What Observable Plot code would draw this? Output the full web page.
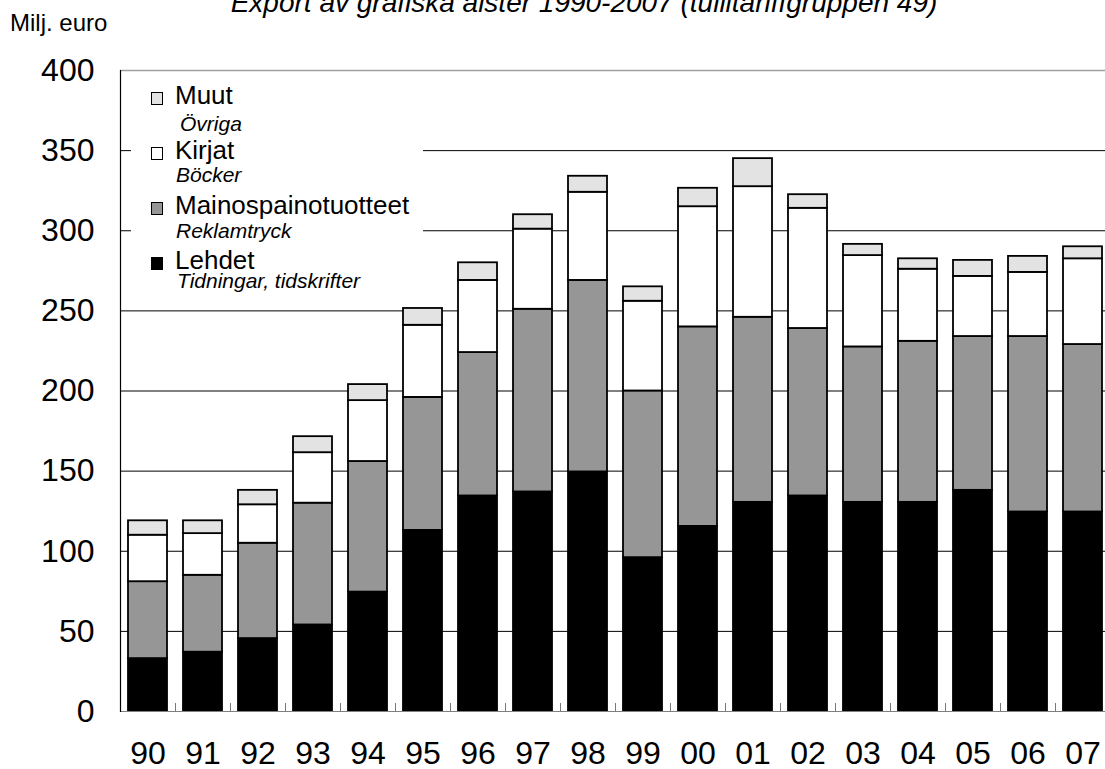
<!DOCTYPE html>
<html>
<head>
<meta charset="utf-8">
<script src="https://cdn.jsdelivr.net/npm/d3@7"></script>
<script src="https://cdn.jsdelivr.net/npm/@observablehq/plot@0.6"></script>
<style>
  html, body { margin: 0; padding: 0; background: #fff; overflow: hidden; }
  #wrap { position: relative; width: 1105px; height: 769px; font-family: "Liberation Sans", Arial, sans-serif; color: #000; }
  #wrap svg { position: absolute; left: 0; top: 0; }
  .abs { position: absolute; white-space: nowrap; }
  #title { top: -11px; left: 584px; transform: translateX(-50%); font-size: 28px; line-height: 28px; font-style: italic; }
  #unit { top: 11px; left: 10px; font-size: 24px; line-height: 24px; }
  #legend { position: absolute; left: 131px; top: 72px; width: 292px; height: 234px; background: #fff; }
  .lg-main { font-size: 26px; line-height: 19px; }
  .lg-sub { font-size: 21px; line-height: 15px; font-style: italic; }
  .sw { position: absolute; width: 12px; height: 13px; box-sizing: border-box; border: 1.5px solid #000; }
</style>
</head>
<body>
<div id="wrap">
  <div id="title" class="abs"></div>
  <div id="unit" class="abs"></div>
</div>
<script>
// ---- Data ----
const years = ["90","91","92","93","94","95","96","97","98","99","00","01","02","03","04","05","06","07"];
const seriesNames = ["Lehdet", "Mainospainotuotteet", "Kirjat", "Muut"];
const seriesSwedish = ["Tidningar, tidskrifter", "Reklamtryck", "Böcker", "Övriga"];
const seriesColors = ["#000000", "#969696", "#ffffff", "#e3e3e3"];
const lehdet = [33, 37, 45.5, 54, 74.5, 113, 134.5, 137, 149.5, 96, 115.5, 130.5, 134.5, 130.5, 130.5, 138, 124.5, 124.5];
const mainos = [48, 48, 59.5, 76, 81.5, 83, 89.5, 114, 119.5, 104, 124.5, 115.5, 104.5, 97, 100.5, 96, 109.5, 104.5];
const kirjat = [29, 26, 24, 31.5, 38, 45, 45, 50, 55, 56, 75, 81.5, 75, 57, 45, 37.5, 40, 53.5];
const muut = [9, 8, 9, 10, 10, 10.5, 11, 9, 10, 9, 11.5, 17.5, 8.5, 7, 6.5, 10, 10, 7.5];
const yTicks = [0, 50, 100, 150, 200, 250, 300, 350, 400];
const titleText = "Export av grafiska alster 1990-2007 (tullitariffgruppen 49)";
const unitText = "Milj. euro";

// ---- Table ----
const seriesValues = [lehdet, mainos, kirjat, muut];
const table = [];
seriesNames.forEach((s, si) => {
  years.forEach((yr, i) => table.push({year: yr, series: s, value: seriesValues[si][i]}));
});

// ---- Layout ----
const W = 1105, H = 769;
const mT = 70, mB = 58, mL = 120, mR = -5;
const step = (W - mL - mR) / years.length;
const plotH = H - mT - mB;

const chart = Plot.plot({
  width: W, height: H,
  marginTop: mT, marginBottom: mB, marginLeft: mL, marginRight: mR,
  style: {fontFamily: "'Liberation Sans', Arial, sans-serif", fontSize: "32px", background: "transparent", overflow: "visible", color: "#000"},
  x: {domain: years, paddingInner: 0.3, paddingOuter: 0.15, label: null},
  y: {domain: [0, 400], label: null},
  color: {domain: seriesNames, range: seriesColors},
  marks: [
    Plot.ruleY(yTicks.filter(d => d > 0 && d < 400), {stroke: "#000", strokeWidth: 1}),
    Plot.ruleY([400], {stroke: "#a0a0a0", strokeWidth: 1.5}),
    Plot.barY(table, {x: "year", y: "value", fill: "series", stroke: "#000", strokeWidth: 1.8}),
    Plot.ruleY([0], {stroke: "#808080", strokeWidth: 1.2}),
    Plot.ruleX(years.slice(1), {x: d => d, dx: -step / 2, insetTop: plotH - 8, stroke: "#777", strokeWidth: 1}),
    Plot.frame({anchor: "left", stroke: "#000", strokeWidth: 1.2}),
    Plot.axisY({ticks: yTicks, tickSize: 0, tickPadding: 26, fontSize: 32, tickFormat: d => String(d)}),
    Plot.axisX({tickSize: 0, tickPadding: 30, fontSize: 32})
  ]
});
const wrap = document.getElementById("wrap");
wrap.insertBefore(chart, wrap.firstChild);

document.getElementById("title").textContent = titleText;
document.getElementById("unit").textContent = unitText;

// ---- Legend (overlay with white box) ----
const legend = document.createElement("div");
legend.id = "legend";
wrap.appendChild(legend);
const boxLeft = 131, boxTop = 72;
// rows from top: Muut, Kirjat, Mainos, Lehdet
const order = [3, 2, 1, 0];
const mainBaselines = [105, 160, 215, 270];
const subBaselines = [130.7, 181.5, 238, 288];
const subLeft = [180, 176, 176, 177];
const mainBase = (19 - 1.117 * 26) / 2 + 0.905 * 26;
const subBase = (15 - 1.117 * 21) / 2 + 0.905 * 21;
order.forEach((si, r) => {
  const sw = document.createElement("div");
  sw.className = "sw";
  sw.style.left = (151 - boxLeft) + "px";
  sw.style.top = (mainBaselines[r] - 13 - boxTop) + "px";
  sw.style.background = seriesColors[si];
  legend.appendChild(sw);
  const m = document.createElement("div");
  m.className = "abs lg-main";
  m.textContent = seriesNames[si];
  m.style.left = (175 - boxLeft) + "px";
  m.style.top = (mainBaselines[r] - mainBase - boxTop) + "px";
  legend.appendChild(m);
  const s = document.createElement("div");
  s.className = "abs lg-sub";
  s.textContent = seriesSwedish[si];
  s.style.left = (subLeft[r] - boxLeft) + "px";
  s.style.top = (subBaselines[r] - subBase - boxTop) + "px";
  legend.appendChild(s);
});
</script>
</body>
</html>
